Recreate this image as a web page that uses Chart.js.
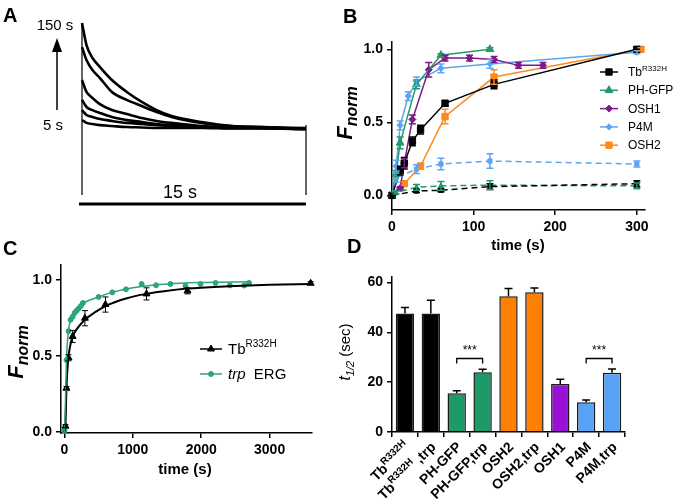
<!DOCTYPE html>
<html>
<head>
<meta charset="utf-8">
<script src="https://cdn.jsdelivr.net/npm/chart.js@4.4.1/dist/chart.umd.min.js"></script>
<style>
  html, body { margin: 0; padding: 0; background: #fff; }
  #fig { position: relative; width: 677px; height: 500px; overflow: hidden; }
  canvas { position: absolute; }
</style>
</head>
<body>
<div id="fig">
  <canvas id="panelA" width="330" height="230" style="left:0;top:0"></canvas>
  <canvas id="panelB" width="347" height="260" style="left:330px;top:0"></canvas>
  <canvas id="panelC" width="330" height="270" style="left:0;top:230px"></canvas>
  <canvas id="panelD" width="347" height="270" style="left:330px;top:230px"></canvas>
</div>
<script>
const FONT = '"Liberation Sans", Arial, sans-serif';

// ---- panel A: raw recovery traces (a.u.), 0-15 s
const traceTime = [0, 0.3, 0.7, 1.2, 2, 3, 4, 5, 6, 8, 10, 12, 15];
const trace1 = [100, 87.8, 80.7, 75.7, 68.5, 61.9, 56.4, 51.9, 48.6, 45.3, 43.1, 42.5, 42.0];
const trace2 = [86.7, 79.6, 74.0, 69.6, 61.9, 57.5, 54.1, 50.8, 48.1, 44.8, 43.1, 42.5, 41.4];
const trace3 = [68.5, 61.9, 58.6, 55.2, 51.9, 49.7, 47.5, 45.9, 44.8, 43.1, 42.5, 42.0, 41.4];
const trace4 = [57.5, 53.6, 51.9, 50.3, 48.1, 46.4, 45.3, 44.2, 43.6, 42.5, 42.0, 42.0, 41.4];
const trace5 = [51.9, 49.2, 48.1, 47.0, 45.9, 44.8, 44.2, 43.6, 43.1, 42.5, 42.0, 42.0, 41.4];
const trace6 = [46.4, 44.8, 44.2, 43.6, 43.1, 42.5, 42.3, 42.0, 42.0, 42.0, 41.7, 41.7, 41.4];

// ---- panel B: Fnorm vs time (s)
const tbTime = [0, 10, 15, 25, 35, 65, 125, 300];
const tbF = [0, 0.17, 0.22, 0.37, 0.45, 0.63, 0.76, 1.0];
const tbErr = [0, 0.03, 0.04, 0.03, 0.03, 0.02, 0.03, 0.01];
const phTime = [0, 5, 10, 30, 60, 120];
const phF = [0, 0.15, 0.36, 0.76, 0.96, 1.0];
const phErr = [0, 0.02, 0.04, 0.03, 0.01, 0.01];
const osh1Time = [0, 10, 15, 25, 45, 65, 95, 125, 155, 185];
const osh1F = [0, 0.05, 0.22, 0.52, 0.86, 0.94, 0.94, 0.93, 0.89, 0.89];
const osh1Err = [0, 0.01, 0.03, 0.03, 0.05, 0.02, 0.02, 0.02, 0.02, 0.02];
const p4mTime = [0, 5, 10, 20, 30, 60, 120, 300];
const p4mF = [0, 0.2, 0.48, 0.68, 0.78, 0.87, 0.90, 0.98];
const p4mErr = [0, 0.04, 0.03, 0.03, 0.03, 0.03, 0.03, 0.01];
const osh2Time = [0, 15, 35, 65, 125, 305];
const osh2F = [0, 0.08, 0.2, 0.54, 0.81, 1.0];
const osh2Err = [0, 0.01, 0.02, 0.05, 0.05, 0.01];
// trp background (dashed)
const p4mTrpTime = [0, 5, 30, 60, 120, 300];
const p4mTrpF = [0, 0.12, 0.18, 0.215, 0.235, 0.215];
const p4mTrpErr = [0, 0.03, 0.03, 0.04, 0.05, 0.02];
const phTrpTime = [0, 5, 30, 60, 120, 300];
const phTrpF = [0, 0.02, 0.055, 0.065, 0.07, 0.065];
const phTrpErr = [0, 0.01, 0.02, 0.03, 0.03, 0.02];
const tbTrpTime = [0, 30, 60, 120, 300];
const tbTrpF = [0, 0.03, 0.035, 0.06, 0.08];
const tbTrpErr = [0, 0.01, 0.01, 0.02, 0.02];
const bTimeTicks = [0, 100, 200, 300];
const bFTicks = [0, 0.5, 1.0];

// ---- panel C: long time course
const cTbTime = [15, 30, 60, 120, 300, 600, 1200, 1800, 3600];
const cTbF = [0.04, 0.29, 0.49, 0.63, 0.75, 0.84, 0.91, 0.93, 0.98];
const cTbErr = [0.01, 0.01, 0.02, 0.04, 0.05, 0.05, 0.04, 0.02, 0.01];
const cTbFitTime = [0, 15, 30, 45, 60, 90, 120, 200, 300, 450, 600, 900, 1200, 1800, 2400, 3000, 3600];
const cTbFit = [0, 0.05, 0.29, 0.42, 0.5, 0.58, 0.63, 0.69, 0.74, 0.79, 0.83, 0.88, 0.91, 0.945, 0.96, 0.97, 0.975];
const cErgTime = [0, 30, 60, 90, 120, 150, 180, 210, 240, 270, 500, 700, 900, 1130, 1340, 1550, 1770, 1990, 2210, 2420, 2630, 2700];
const cErgF = [0.01, 0.475, 0.665, 0.74, 0.76, 0.785, 0.80, 0.815, 0.83, 0.85, 0.89, 0.92, 0.94, 0.975, 0.967, 0.975, 0.962, 0.975, 0.982, 0.966, 0.965, 0.982];
const cErgFitTime = [0, 15, 30, 60, 90, 120, 200, 300, 500, 700, 1000, 1500, 2000, 2700];
const cErgFit = [0, 0.2, 0.48, 0.67, 0.74, 0.77, 0.82, 0.855, 0.89, 0.92, 0.95, 0.975, 0.985, 0.99];
const cTimeTicks = [0, 1000, 2000, 3000];
const cFTicks = [0, 0.5, 1.0];

// ---- panel D: t1/2 (sec); '^' toggles superscript in a label
const dLabels = ['Tb^R332H', 'Tb^R332H^ ,trp', 'PH-GFP', 'PH-GFP,trp', 'OSH2', 'OSH2,trp', 'OSH1', 'P4M', 'P4M,trp'];
const dHalfTime = [47.6, 47.6, 15.6, 24.0, 54.5, 56.1, 19.3, 11.9, 23.8];
const dErr = [2.4, 5.3, 1.0, 1.2, 3.1, 1.7, 1.9, 0.9, 1.5];
const dColors = ['#000000', '#000000', '#1c9a68', '#1c9a68', '#ff8000', '#ff8000', '#9a10d6', '#58a2f5', '#58a2f5'];
const dSigPairs = [[2, 3], [7, 8]];
const dSigLevel = 29.5;
const dTicks = [0, 20, 40, 60];

const GREEN = '#23996b', PURPLE = '#7d1b8a', BLUE = '#5ca5f2', ORANGE = '#ff8a1c';

Chart.defaults.font.family = FONT;
Chart.defaults.color = '#000';
Chart.defaults.animation = false;

const pts = (xs, ys) => xs.map((x, i) => ({ x: x, y: ys[i] }));

function richText(ctx, parts, x, y, opt) {
  opt = opt || {};
  ctx.save();
  ctx.translate(x, y);
  if (opt.rotate) ctx.rotate(opt.rotate);
  ctx.textAlign = 'left';
  ctx.textBaseline = opt.baseline || 'alphabetic';
  let total = 0;
  parts.forEach(p => { ctx.font = p.font; p.w = ctx.measureText(p.text).width; total += p.w; });
  let cx = opt.align === 'center' ? -total / 2 : opt.align === 'right' ? -total : 0;
  parts.forEach(p => {
    ctx.font = p.font;
    ctx.fillStyle = p.color || '#000';
    ctx.fillText(p.text, cx, p.dy || 0);
    cx += p.w;
  });
  ctx.restore();
}

function marker(ctx, style, r, x, y, color) {
  ctx.save();
  ctx.fillStyle = color;
  ctx.strokeStyle = color;
  Chart.helpers.drawPoint(ctx, { pointStyle: style, radius: r, rotation: 0, borderWidth: 1 }, x, y);
  ctx.restore();
}

const errorBars = {
  id: 'errorBars',
  afterDatasetsDraw(chart) {
    const ctx = chart.ctx, ys = chart.scales.y;
    chart.data.datasets.forEach((ds, i) => {
      if (!ds.errors) return;
      const meta = chart.getDatasetMeta(i);
      ctx.save();
      ctx.strokeStyle = ds.errorColor || ds.borderColor;
      ctx.lineWidth = ds.errorWidth || 1.5;
      meta.data.forEach((el, j) => {
        const e = ds.errors[j];
        if (!e) return;
        const v = typeof ds.data[j] === 'object' ? ds.data[j].y : ds.data[j];
        const top = ys.getPixelForValue(v + e);
        const bot = ds.upOnly ? ys.getPixelForValue(v) : ys.getPixelForValue(v - e);
        const cap = ds.capWidth || 3.5;
        ctx.beginPath();
        ctx.moveTo(el.x, top); ctx.lineTo(el.x, bot);
        ctx.moveTo(el.x - cap, top); ctx.lineTo(el.x + cap, top);
        if (!ds.upOnly) { ctx.moveTo(el.x - cap, bot); ctx.lineTo(el.x + cap, bot); }
        ctx.stroke();
      });
      ctx.restore();
    });
  }
};

function axisStyle(extra) {
  return Object.assign({
    grid: { drawOnChartArea: false, color: '#000', lineWidth: 1.5, tickLength: 5 },
    border: { display: true, color: '#000', width: 1.5 },
    ticks: { font: { size: 14, weight: 'bold' }, color: '#000', padding: 4 }
  }, extra);
}
const fixTicks = vals => s => { s.ticks = vals.map(v => ({ value: v })); };
const tickFont = { size: 14, weight: 'bold' };
const plainTicks = { font: tickFont, color: '#000', padding: 4, callback: v => String(v) };
const oneDecTicks = { font: tickFont, color: '#000', padding: 4, callback: v => v.toFixed(1) };

// ================= A =================
function initTraces() {
  const traces = [trace1, trace2, trace3, trace4, trace5, trace6];
  const datasets = traces.map(tr => ({
    data: pts(traceTime, tr), borderColor: '#000', borderWidth: 2.6,
    pointRadius: 0, cubicInterpolationMode: 'monotone', clip: false
  }));
  // stimulus frame and 15 s scale bar
  datasets.push({ data: pts([0, 0], [trace1[0], 5]), borderColor: '#000', borderWidth: 1.2, pointRadius: 0, clip: false });
  datasets.push({ data: pts([15, 15], [43.6, 5]), borderColor: '#000', borderWidth: 1.2, pointRadius: 0, clip: false });
  datasets.push({ data: pts([-0.2, 15], [0, 0]), borderColor: '#000', borderWidth: 3, pointRadius: 0, clip: false });

  new Chart(document.getElementById('panelA'), {
    type: 'line',
    data: { datasets: datasets },
    options: {
      responsive: false,
      layout: { padding: { left: 82, right: 24, top: 23, bottom: 26 } },
      plugins: { legend: { display: false }, tooltip: { enabled: false } },
      scales: {
        x: { type: 'linear', display: false, min: 0, max: 15 },
        y: { display: false, min: 0, max: 100 }
      }
    },
    plugins: [{
      id: 'aText',
      afterDraw(chart) {
        const ctx = chart.ctx;
        richText(ctx, [{ text: 'A', font: 'bold 20px ' + FONT }], 3, 22);
        richText(ctx, [{ text: '150 s', font: '15px ' + FONT }], 55, 30, { align: 'center' });
        richText(ctx, [{ text: '5 s', font: '15px ' + FONT }], 53, 130, { align: 'center' });
        richText(ctx, [{ text: '15 s', font: '18px ' + FONT }], 180, 198, { align: 'center' });
        ctx.save();
        ctx.strokeStyle = '#000'; ctx.fillStyle = '#000'; ctx.lineWidth = 1.5;
        ctx.beginPath(); ctx.moveTo(57, 110); ctx.lineTo(57, 50); ctx.stroke();
        ctx.beginPath(); ctx.moveTo(57, 38); ctx.lineTo(62, 52); ctx.lineTo(52, 52); ctx.closePath(); ctx.fill();
        ctx.restore();
      }
    }]
  });
}

// ================= B =================
function initRecovery() {
  const line = (label, sup, xs, ys, es, color, style, r, dashed) => ({
    label: label, sup: sup, data: pts(xs, ys), errors: es,
    borderColor: color, backgroundColor: color, borderWidth: 1.5,
    borderDash: dashed ? [6, 4] : [], pointStyle: style, pointRadius: r,
    pointBorderWidth: 1, clip: false, inLegend: !dashed
  });
  const datasets = [
    line('Tb', '', tbTrpTime, tbTrpF, tbTrpErr, '#000', 'rect', 3, true),
    line('PH-GFP', '', phTrpTime, phTrpF, phTrpErr, GREEN, 'triangle', 3, true),
    line('P4M', '', p4mTrpTime, p4mTrpF, p4mTrpErr, BLUE, 'rect', 3, true),
    line('Tb', 'R332H', tbTime, tbF, tbErr, '#000', 'rect', 4.5, false),
    line('PH-GFP', '', phTime, phF, phErr, GREEN, 'triangle', 4.5, false),
    line('OSH1', '', osh1Time, osh1F, osh1Err, PURPLE, 'rectRot', 3.5, false),
    line('P4M', '', p4mTime, p4mF, p4mErr, BLUE, 'rectRot', 3.2, false),
    line('OSH2', '', osh2Time, osh2F, osh2Err, ORANGE, 'rect', 4.5, false)
  ];

  new Chart(document.getElementById('panelB'), {
    type: 'line',
    data: { datasets: datasets },
    options: {
      responsive: false,
      layout: { padding: { left: 0, right: 32, top: 42, bottom: 0 } },
      plugins: { legend: { display: false }, tooltip: { enabled: false } },
      scales: {
        x: axisStyle({ type: 'linear', min: 0, max: 310, ticks: plainTicks,
                       afterBuildTicks: fixTicks(bTimeTicks), afterFit: s => { s.height = 50; } }),
        y: axisStyle({ min: -0.1, max: 1.05, ticks: oneDecTicks,
                       afterBuildTicks: fixTicks(bFTicks), afterFit: s => { s.width = 62; } })
      }
    },
    plugins: [errorBars, {
      id: 'bText',
      afterDraw(chart) {
        const ctx = chart.ctx;
        richText(ctx, [{ text: 'B', font: 'bold 20px ' + FONT }], 13, 23);
        richText(ctx, [{ text: 'F', font: 'italic bold 22px ' + FONT },
                       { text: 'norm', font: 'italic bold 16px ' + FONT, dy: 5 }],
                 22, 113, { align: 'center', rotate: -Math.PI / 2 });
        richText(ctx, [{ text: 'time (s)', font: 'bold 15px ' + FONT }], 188, 250, { align: 'center' });
        let y = 72;
        chart.data.datasets.filter(d => d.inLegend).forEach(d => {
          ctx.save();
          ctx.strokeStyle = d.borderColor; ctx.lineWidth = 1.5;
          ctx.beginPath(); ctx.moveTo(270, y); ctx.lineTo(288, y); ctx.stroke();
          ctx.restore();
          marker(ctx, d.pointStyle, d.pointRadius, 279, y, d.borderColor);
          const parts = [{ text: d.label, font: '12px ' + FONT }];
          if (d.sup) parts.push({ text: d.sup, font: '8px ' + FONT, dy: -5 });
          richText(ctx, parts, 298, y + 4);
          y += 18.3;
        });
      }
    }]
  });
}

// ================= C =================
function initLongCourse() {
  const datasets = [
    { data: pts(cErgFitTime, cErgFit), borderColor: '#2ca57c', borderWidth: 1.5, pointRadius: 0,
      cubicInterpolationMode: 'monotone', clip: false },
    { data: pts(cTbFitTime, cTbFit), borderColor: '#000', borderWidth: 2, pointRadius: 0,
      cubicInterpolationMode: 'monotone', clip: false },
    { data: pts(cErgTime, cErgF), showLine: false, pointStyle: 'circle', pointRadius: 2.5,
      backgroundColor: '#2ca57c', borderColor: '#2ca57c', clip: false },
    { data: pts(cTbTime, cTbF), showLine: false, pointStyle: 'triangle', pointRadius: 4,
      backgroundColor: '#000', borderColor: '#000', errors: cTbErr, errorWidth: 1, capWidth: 3, clip: false }
  ];

  new Chart(document.getElementById('panelC'), {
    type: 'line',
    data: { datasets: datasets },
    options: {
      responsive: false,
      layout: { padding: { left: 0, right: 18, top: 35, bottom: 0 } },
      plugins: { legend: { display: false }, tooltip: { enabled: false } },
      scales: {
        x: axisStyle({ type: 'linear', min: -50, max: 3620, ticks: plainTicks,
                       afterBuildTicks: fixTicks(cTimeTicks), afterFit: s => { s.height = 67; } }),
        y: axisStyle({ min: -0.005, max: 1.1, ticks: oneDecTicks,
                       afterBuildTicks: fixTicks(cFTicks), afterFit: s => { s.width = 61; } })
      }
    },
    plugins: [errorBars, {
      id: 'cText',
      afterDraw(chart) {
        const ctx = chart.ctx;
        richText(ctx, [{ text: 'C', font: 'bold 20px ' + FONT }], 3, 25);
        richText(ctx, [{ text: 'F', font: 'italic bold 22px ' + FONT },
                       { text: 'norm', font: 'italic bold 16px ' + FONT, dy: 5 }],
                 23, 122, { align: 'center', rotate: -Math.PI / 2 });
        richText(ctx, [{ text: 'time (s)', font: 'bold 15px ' + FONT }], 185, 244, { align: 'center' });
        const rows = [
          { y: 119, color: '#000', style: 'triangle', r: 4,
            parts: [{ text: 'Tb', font: '15px ' + FONT }, { text: 'R332H', font: '10px ' + FONT, dy: -7 }] },
          { y: 144, color: '#2ca57c', style: 'circle', r: 2.5,
            parts: [{ text: 'trp', font: 'italic 15px ' + FONT }, { text: '  ERG', font: '15px ' + FONT }] }
        ];
        rows.forEach(row => {
          ctx.save();
          ctx.strokeStyle = row.color; ctx.lineWidth = 1.5;
          ctx.beginPath(); ctx.moveTo(200, row.y); ctx.lineTo(222, row.y); ctx.stroke();
          ctx.restore();
          marker(ctx, row.style, row.r, 211, row.y, row.color);
          richText(ctx, row.parts, 228, row.y + 5);
        });
      }
    }]
  });
}

// ================= D =================
function initHalfTimes() {
  new Chart(document.getElementById('panelD'), {
    type: 'bar',
    data: {
      labels: dLabels,
      datasets: [{
        data: dHalfTime, backgroundColor: dColors, borderColor: '#1a1a1a', borderWidth: 1.5,
        barPercentage: 0.71, categoryPercentage: 1.0,
        errors: dErr, upOnly: true, errorColor: '#000', errorWidth: 1.5, capWidth: 4
      }]
    },
    options: {
      responsive: false,
      layout: { padding: { left: 0, right: 52, top: 47, bottom: 0 } },
      plugins: { legend: { display: false }, tooltip: { enabled: false } },
      scales: {
        x: axisStyle({ ticks: { callback: () => '', autoSkip: false }, afterFit: s => { s.height = 68; } }),
        y: axisStyle({ min: 0, max: 62.2, ticks: plainTicks,
                       afterBuildTicks: fixTicks(dTicks), afterFit: s => { s.width = 62; } })
      }
    },
    plugins: [errorBars, {
      id: 'dText',
      afterDraw(chart) {
        const ctx = chart.ctx, xs = chart.scales.x, ys = chart.scales.y;
        richText(ctx, [{ text: 'D', font: 'bold 20px ' + FONT }], 17, 23);
        richText(ctx, [{ text: 't', font: 'italic 16px ' + FONT },
                       { text: '1/2', font: 'italic 11px ' + FONT, dy: 4 },
                       { text: ' (sec)', font: '15px ' + FONT }],
                 20, 122, { align: 'center', rotate: -Math.PI / 2 });
        const axisY = ys.getPixelForValue(0);
        dLabels.forEach((lab, i) => {
          const parts = lab.split('^').map((t, k) => k % 2
            ? { text: t, font: 'bold 10px ' + FONT, dy: -5 }
            : { text: t, font: 'bold 14px ' + FONT });
          richText(ctx, parts, xs.getPixelForValue(i) + 3, axisY + 13,
                   { align: 'right', rotate: -Math.PI / 4, baseline: 'middle' });
        });
        ctx.save();
        ctx.strokeStyle = '#000'; ctx.lineWidth = 1.3;
        dSigPairs.forEach(pair => {
          const x1 = xs.getPixelForValue(pair[0]), x2 = xs.getPixelForValue(pair[1]);
          const y = ys.getPixelForValue(dSigLevel);
          ctx.beginPath();
          ctx.moveTo(x1, y + 5); ctx.lineTo(x1, y); ctx.lineTo(x2, y); ctx.lineTo(x2, y + 5);
          ctx.stroke();
          richText(ctx, [{ text: '***', font: '12px ' + FONT }], (x1 + x2) / 2, y - 4, { align: 'center' });
        });
        ctx.restore();
      }
    }]
  });
}

initTraces();
initRecovery();
initLongCourse();
initHalfTimes();
</script>
</body>
</html>
